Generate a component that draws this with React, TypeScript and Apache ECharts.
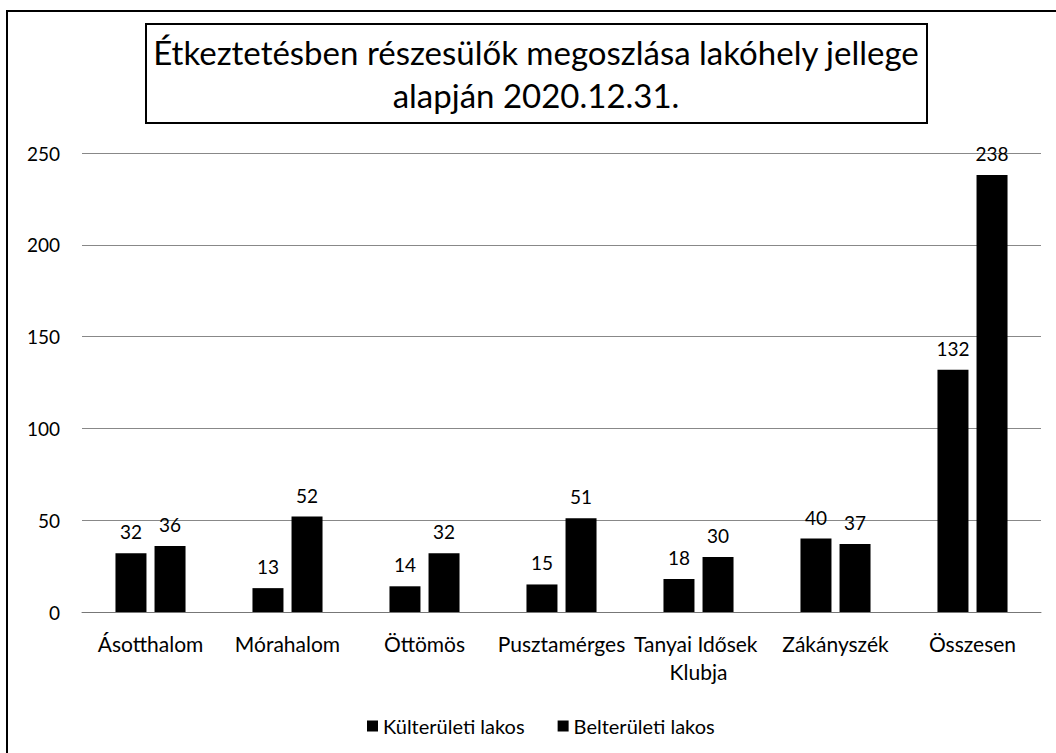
import React, { useEffect, useRef } from "react";
import * as echarts from "echarts";

const categories = [
  "Ásotthalom",
  "Mórahalom",
  "Öttömös",
  "Pusztamérges",
  "Tanyai Idősek Klubja",
  "Zákányszék",
  "Összesen",
];
const kulteruleti = [32, 13, 14, 15, 18, 40, 132];
const belteruleti = [36, 52, 32, 51, 30, 37, 238];
const seriesNames = ["Külterületi lakos", "Belterületi lakos"];
const titleLines = [
  "Étkeztetésben részesülők megoszlása lakóhely jellege",
  "alapján 2020.12.31.",
];

const FONT = "Lato, 'Open Sans', sans-serif";

export default function App() {
  const ref = useRef<HTMLDivElement>(null);
  useEffect(() => {
    if (!ref.current) return;
    const chart = echarts.init(ref.current, null, { renderer: "svg" });
    const label = {
      show: true,
      position: "top",
      distance: 12,
      color: "#000",
      fontSize: 19,
      fontFamily: FONT,
    };
    chart.setOption({
      animation: false,
      backgroundColor: "#fff",
      textStyle: { fontFamily: FONT, color: "#000" },
      grid: { left: 82, right: 15, top: 153, bottom: 141, containLabel: false },
      legend: {
        left: 362,
        top: 711,
        itemWidth: 11,
        itemHeight: 11,
        itemGap: 33,
        icon: "rect",
        textStyle: { fontSize: 20, color: "#000", fontFamily: FONT },
        data: seriesNames,
      },
      xAxis: {
        type: "category",
        data: categories,
        axisTick: { show: false },
        axisLine: { lineStyle: { color: "#777", width: 1 } },
        axisLabel: {
          interval: 0,
          margin: 17,
          fontSize: 21,
          color: "#000",
          fontFamily: FONT,
          width: 150,
          overflow: "break",
          lineHeight: 28,
        },
      },
      yAxis: {
        type: "value",
        min: 0,
        max: 250,
        interval: 50,
        axisLine: { show: false },
        axisTick: { show: false },
        axisLabel: { margin: 22, fontSize: 19, color: "#000", fontFamily: FONT },
        splitLine: { lineStyle: { color: "#888", width: 1 } },
      },
      series: [
        {
          name: seriesNames[0],
          type: "bar",
          data: kulteruleti,
          barWidth: 31,
          barGap: "26%",
          itemStyle: { color: "#000" },
          label,
        },
        {
          name: seriesNames[1],
          type: "bar",
          data: belteruleti,
          barWidth: 31,
          itemStyle: { color: "#000" },
          label,
        },
      ],
      graphic: [
        {
          type: "rect",
          shape: { x: 7, y: 11, width: 1070, height: 770 },
          style: { fill: "none", stroke: "#000", lineWidth: 2 },
          silent: true,
        },
        {
          type: "rect",
          shape: { x: 146, y: 24, width: 781, height: 99 },
          style: { fill: "#fff", stroke: "#000", lineWidth: 2 },
          silent: true,
        },
        {
          type: "text",
          x: 536,
          y: 52,
          style: {
            text: titleLines[0],
            fill: "#000",
            font: `33px ${FONT}`,
            textAlign: "center",
            textVerticalAlign: "middle",
          },
        },
        {
          type: "text",
          x: 536,
          y: 95,
          style: {
            text: titleLines[1],
            fill: "#000",
            font: `33px ${FONT}`,
            textAlign: "center",
            textVerticalAlign: "middle",
          },
        },
      ],
    });
    return () => chart.dispose();
  }, []);
  return (
    <div
      ref={ref}
      style={{ position: "fixed", left: 0, top: 0, width: 1056, height: 753 }}
    />
  );
}
